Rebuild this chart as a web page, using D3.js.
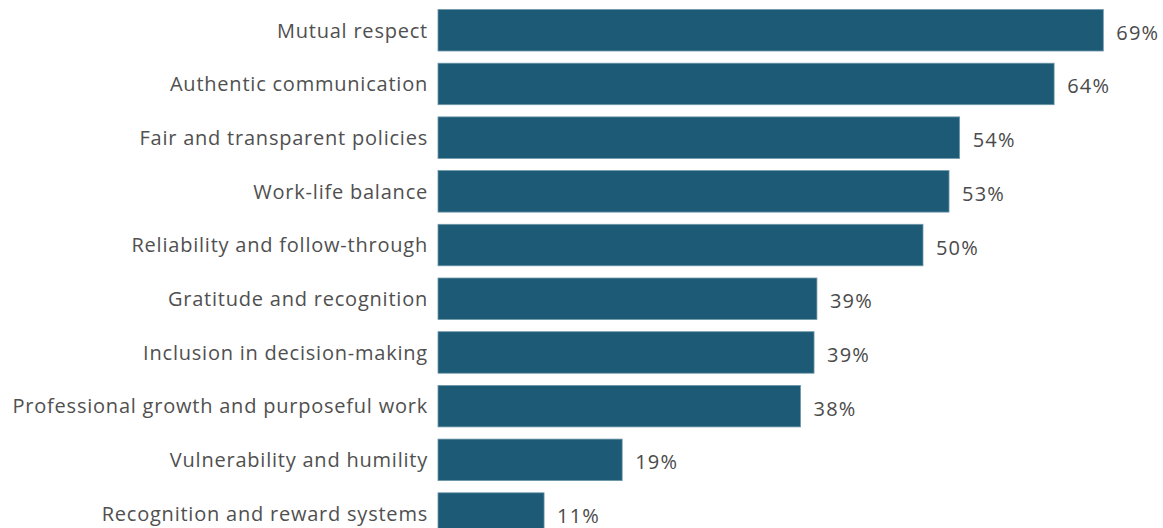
<!DOCTYPE html>
<html>
<head>
<meta charset="utf-8">
<script src="https://cdn.jsdelivr.net/npm/d3@7"></script>
<style>
  html, body { margin: 0; padding: 0; background: #ffffff; }
  svg { display: block; }
</style>
</head>
<body>
<svg id="chart" width="1163" height="528"></svg>
<script>
// Survey results: share of respondents naming each factor
const categories = [
  "Mutual respect",
  "Authentic communication",
  "Fair and transparent policies",
  "Work-life balance",
  "Reliability and follow-through",
  "Gratitude and recognition",
  "Inclusion in decision-making",
  "Professional growth and purposeful work",
  "Vulnerability and humility",
  "Recognition and reward systems"
];
const values = [69, 63.9, 54.1, 53, 50.3, 39.3, 39, 37.6, 19.1, 11];

const svg = d3.select("#chart");
const fontFamily = "'Open Sans', 'Noto Sans', sans-serif";

const x = d3.scaleLinear().domain([0, 69]).range([438, 1103.3]);
const y = d3.scaleBand()
  .domain(categories)
  .range([3.4, 540.4])
  .paddingInner(0.227)
  .paddingOuter(0.1135);

const data = categories.map((c, i) => ({ cat: c, val: values[i] }));

// Bars
svg.append("g").selectAll("rect")
  .data(data)
  .join("rect")
  .attr("x", x(0))
  .attr("y", d => y(d.cat))
  .attr("width", d => x(d.val) - x(0))
  .attr("height", y.bandwidth())
  .attr("fill", "#1c5a75")
  .attr("stroke", "#6f98ab")
  .attr("stroke-width", 0.8);

// Category labels
svg.append("g").selectAll("text")
  .data(data)
  .join("text")
  .attr("x", 428)
  .attr("y", d => y(d.cat) + y.bandwidth() / 2 + 7.3)
  .attr("text-anchor", "end")
  .attr("font-family", fontFamily)
  .attr("font-size", 20)
  .attr("letter-spacing", 0.78)
  .attr("fill", "#505050")
  .text(d => d.cat);

// Value labels
svg.append("g").selectAll("text")
  .data(data)
  .join("text")
  .attr("x", d => x(d.val) + 13)
  .attr("y", d => y(d.cat) + y.bandwidth() / 2 + 9.5)
  .attr("font-family", fontFamily)
  .attr("font-size", 20)
  .attr("letter-spacing", 1.2)
  .attr("fill", "#4a4a4a")
  .text(d => Math.round(d.val) + "%");
</script>
</body>
</html>
